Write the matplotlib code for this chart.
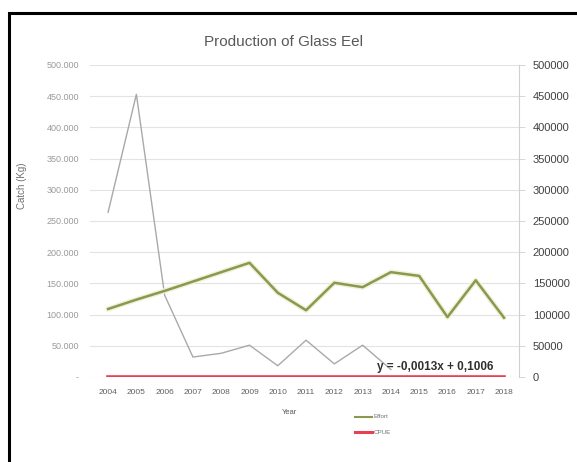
import numpy as np
import matplotlib.pyplot as plt
from matplotlib.patches import Rectangle
from matplotlib.lines import Line2D

plt.rcParams['font.family'] = ['Liberation Sans', 'DejaVu Sans']

years = [2004, 2005, 2006, 2007, 2008, 2009, 2010, 2011, 2012, 2013, 2014, 2015, 2016, 2017, 2018]
catch = [264000, 453000, 131000, 32000, 38000, 51000, 18000, 59000, 21000, 51000, 12000,
         np.nan, np.nan, np.nan, np.nan]
effort = [109000, 124000, 138000, 153000, 168000, 183000, 135000, 107000, 151000, 144000,
          168000, 162000, 96000, 155000, 95000]
cpue = [0.10, 0.10, 0.10, 0.09, 0.09, 0.09, 0.09, 0.09, 0.09, 0.09, 0.09, 0.08, 0.08, 0.08, 0.08]
equation = "y = -0,0013x + 0,1006"

W, H = 577, 462
fig = plt.figure(figsize=(W / 100, H / 100), dpi=100)
ax = fig.add_axes([90 / W, 1 - 377 / H, (519 - 90) / W, (377 - 65) / H])
ax2 = ax.twinx()

ax.set_xlim(2003.36, 2018.53)
ax.set_ylim(0, 500000)
ax2.set_ylim(0, 500000)

yt = np.arange(0, 500001, 50000)
ax.set_yticks(yt)
ax.set_yticklabels(['-'] + ['{:,}'.format(v).replace(',', '.') for v in yt[1:]],
                   fontsize=6.5, color='#9a9a9a')
ax.tick_params(axis='y', length=0, pad=8)
ax2.set_yticks(yt)
ax2.set_yticklabels([str(v) for v in yt], fontsize=8, color='#404040')
ax2.tick_params(axis='y', length=4, width=0.6, color='#d0d0d0', pad=6)

ax.set_xticks(years)
ax.set_xticklabels([str(y) for y in years], fontsize=6, color='#606060')
ax.tick_params(axis='x', length=0, pad=9)

ax.grid(axis='y', color='#e3e3e3', lw=0.8)
ax.set_axisbelow(True)
for a in (ax, ax2):
    for s in ('top', 'left', 'bottom'):
        a.spines[s].set_visible(False)
ax.spines['right'].set_visible(False)
ax2.spines['right'].set_color('#d0d0d0')
ax2.spines['right'].set_linewidth(0.8)

yr = np.array(years)
c = np.array(catch)
m = ~np.isnan(c)
ax.plot(yr[m], c[m], color='#a9a9a9', lw=1.0, zorder=3)
ax.plot(years, cpue, color='#e8404f', lw=2.6, zorder=4)
ax2.plot(years, effort, color='#f0f2d8', lw=3.8, zorder=2, solid_capstyle='round')
ax2.plot(years, effort, color='#8c9850', lw=1.8, zorder=3)

ax.text(2015.55, 16000, equation, fontsize=8.5, fontweight='bold', color='#303030',
        ha='center', va='center', zorder=6)

fig.text(283 / W, 1 - 42 / H, 'Production of Glass Eel', fontsize=11, color='#595959',
         ha='center', va='center')
fig.text(290 / W, 1 - 412 / H, 'Year', fontsize=5.5, color='#595959', ha='center', va='center')
fig.text(22 / W, 1 - 186 / H, 'Catch (Kg)', fontsize=7, color='#707070', ha='center',
         va='center', rotation=90)

# legend below the axis
fig.add_artist(Line2D([355 / W, 372 / W], [1 - 417 / H] * 2, color='#8c9850', lw=1.5))
fig.text(374 / W, 1 - 417 / H, 'Effort', fontsize=4.5, color='#707070', va='center')
fig.add_artist(Line2D([355 / W, 372 / W], [1 - 432 / H] * 2, color='#e8404f', lw=2.2))
fig.text(374 / W, 1 - 432 / H, 'CPUE', fontsize=4.5, color='#707070', va='center')

fig.add_artist(Rectangle((9 / W, -0.05), 1.1, 1 - 13 / H + 0.05, transform=fig.transFigure,
                         fill=False, ec='black', lw=2.2))

fig.savefig('out.png', dpi=100)
